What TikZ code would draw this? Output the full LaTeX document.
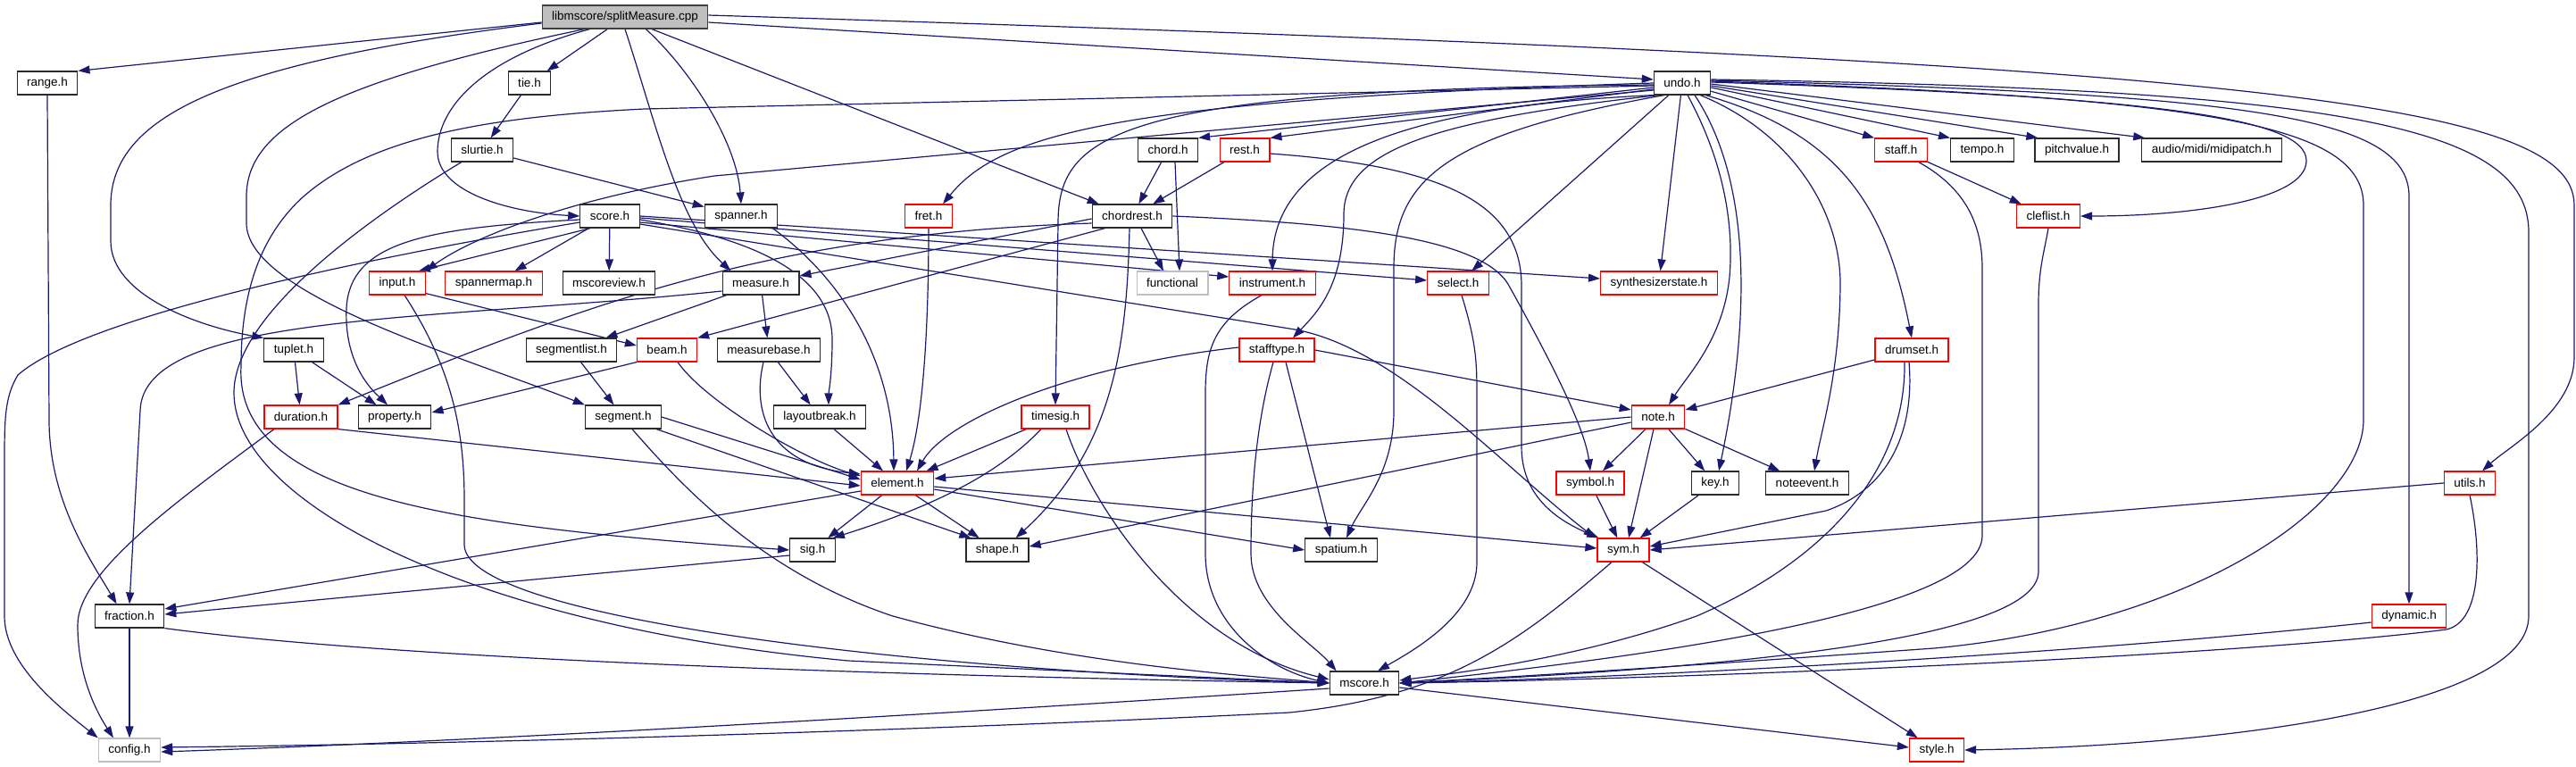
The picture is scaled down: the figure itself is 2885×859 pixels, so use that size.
\documentclass[tikz,border=0pt]{standalone}
\usepackage{fontspec}
\setmainfont{Liberation Sans}
\usepackage{tikz}
\usetikzlibrary{arrows.meta, calc, backgrounds}
\definecolor{edgeNavy}{HTML}{191970}
\definecolor{boxEdge}{HTML}{2B2B2B}
\definecolor{boxRed}{HTML}{FF0000}
\definecolor{boxGray}{HTML}{BFBFBF}
\definecolor{mainEdge}{HTML}{404040}
\tikzset{
  incFile/.style={rectangle, draw=boxEdge, fill=white, line width=1.2pt,
                  minimum height=26pt, inner xsep=11pt, inner ysep=0pt,
                  font=\fontsize{13.5}{16}\selectfont},
  incRed/.style={incFile, draw=boxRed},
  incExt/.style={incFile, draw=boxGray},
  incMain/.style={incFile, draw=mainEdge, fill=boxGray},
  arrowInc/.style={-{Triangle[length=13pt, width=9pt]}, edgeNavy, line width=1.2pt},
}

\begin{document}
\begin{tikzpicture}[x=1pt, y=-1pt]
  \useasboundingbox (0,0) rectangle (2885,859);

  \node[incMain] (cpp) at (700,19) {libmscore/splitMeasure.cpp};
  \node[incFile] (range) at (53,93) {range.h};
  \node[incFile] (tie) at (593,93) {tie.h};
  \node[incFile] (undo) at (1884,93) {undo.h};
  \node[incFile] (slurtie) at (540,168) {slurtie.h};
  \node[incFile] (chord) at (1308,168) {chord.h};
  \node[incRed] (rest) at (1394,168) {rest.h};
  \node[incRed] (staff) at (2129,168) {staff.h};
  \node[incFile] (tempo) at (2220,168) {tempo.h};
  \node[incFile] (pitch) at (2326,168) {pitchvalue.h};
  \node[incFile] (midipatch) at (2477,168) {audio/midi/midipatch.h};
  \node[incFile] (score) at (683,242) {score.h};
  \node[incFile] (spanner) at (830,242) {spanner.h};
  \node[incRed] (fret) at (1040,242) {fret.h};
  \node[incFile] (chordrest) at (1268,242) {chordrest.h};
  \node[incRed] (cleflist) at (2294,242) {cleflist.h};
  \node[incRed] (input) at (445,317) {input.h};
  \node[incRed] (spanmap) at (553,317) {spannermap.h};
  \node[incFile] (view) at (682,317) {mscoreview.h};
  \node[incFile] (measure) at (852,317) {measure.h};
  \node[incExt] (functional) at (1313,317) {functional};
  \node[incRed] (instr) at (1425,317) {instrument.h};
  \node[incRed] (select) at (1633,317) {select.h};
  \node[incRed] (synth) at (1858,317) {synthesizerstate.h};
  \node[incFile] (tuplet) at (329,392) {tuplet.h};
  \node[incFile] (seglist) at (640,392) {segmentlist.h};
  \node[incRed] (beam) at (747,392) {beam.h};
  \node[incFile] (mbase) at (861,392) {measurebase.h};
  \node[incRed] (stafftype) at (1430,392) {stafftype.h};
  \node[incRed] (drumset) at (2141,392) {drumset.h};
  \node[incRed] (duration) at (337,467) {duration.h};
  \node[incFile] (property) at (442,467) {property.h};
  \node[incFile] (segment) at (698,467) {segment.h};
  \node[incFile] (lbreak) at (918,467) {layoutbreak.h};
  \node[incRed] (timesig) at (1182,467) {timesig.h};
  \node[incRed] (note) at (1857,467) {note.h};
  \node[incRed] (element) at (1005,541) {element.h};
  \node[incRed] (symbol) at (1781,541) {symbol.h};
  \node[incFile] (key) at (1921,541) {key.h};
  \node[incFile] (nevent) at (2024,541) {noteevent.h};
  \node[incRed] (utils) at (2766,541) {utils.h};
  \node[incFile] (sig) at (910,616) {sig.h};
  \node[incFile] (shape) at (1117,616) {shape.h};
  \node[incFile] (spatium) at (1502,616) {spatium.h};
  \node[incRed] (sym) at (1818,616) {sym.h};
  \node[incFile] (fraction) at (145,690) {fraction.h};
  \node[incRed] (dynamic) at (2698,690) {dynamic.h};
  \node[incFile] (mscore) at (1528,765) {mscore.h};
  \node[incExt] (config) at (145,840) {config.h};
  \node[incRed] (style) at (2169,840) {style.h};

  \begin{scope}[on background layer]
  \draw[arrowInc] ($(cpp.west)+(0,6)$) -- (range.north east);
  \draw[arrowInc] ($(cpp.west)+(0,7)$) .. controls (250,70) and (124,130) .. (124,230) -- (124,270) .. controls (124,330) and (220,365) .. (tuplet.north west);
  \draw[arrowInc] ($(cpp.south west)+(48,0)$) .. controls (380,90) and (276,140) .. (276,220) -- (276,250) .. controls (276,330) and (520,400) .. (segment.north west);
  \draw[arrowInc] ($(cpp.south west)+(54,0)$) .. controls (540,65) and (490,120) .. (490,170) .. controls (490,215) and (570,238) .. (score.west);
  \draw[arrowInc] (cpp) -- (tie);
  \draw[arrowInc] (cpp.south) .. controls (735,140) and (760,250) .. ($(measure.north west)+(10,0)$);
  \draw[arrowInc] ($(cpp.south east)+(-70,0)$) .. controls (775,80) and (825,160) .. (spanner.north);
  \draw[arrowInc] ($(cpp.south)+(30,0)$) -- ($(chordrest.north west)+(8,0)$);
  \draw[arrowInc] ($(cpp.east)+(0,6)$) -- ($(undo.west)+(0,-4)$);
  \draw[arrowInc] ($(cpp.east)+(0,-2)$) .. controls (2500,70) and (2883,110) .. (2883,230) -- (2883,400) .. controls (2883,460) and (2810,500) .. ($(utils.north)+(14,0)$);

  \draw[arrowInc] (range.south) -- (55,470) .. controls (55,560) and (100,625) .. ($(fraction.north west)+(25,0)$);
  \draw[arrowInc] (tie) -- (slurtie);
  \draw[arrowInc] (slurtie) -- (spanner);
  \draw[arrowInc] ($(slurtie.south west)+(12,0)$) .. controls (420,240) and (262,350) .. (262,440) .. controls (262,560) and (520,700) .. (950,740) -- (mscore.west);

  \draw[arrowInc] ($(undo.west)+(0,3)$) -- (722,122) .. controls (560,130) and (420,150) .. (340,220) .. controls (290,265) and (270,330) .. (270,410) .. controls (262,560) and (520,590) .. (sig.west);
  \draw[arrowInc] ($(undo.west)+(0,5)$) -- (chord.north east);
  \draw[arrowInc] ($(undo.west)+(0,7)$) -- (rest.north east);
  \draw[arrowInc] (undo.west) .. controls (1250,112) and (1120,150) .. ($(fret.north)+(16,0)$);
  \draw[arrowInc] ($(undo.west)+(0,2)$) .. controls (1250,100) and (1185,150) .. (1185,250) -- (timesig.north);
  \draw[arrowInc] ($(undo.west)+(0,8)$) -- (800,197) .. controls (640,222) and (530,265) .. (input.north east);
  \draw[arrowInc] (undo.south west) .. controls (1560,120) and (1426,180) .. (instr.north);
  \draw[arrowInc] ($(undo.south west)+(6,0)$) .. controls (1600,135) and (1505,170) .. (1505,240) .. controls (1505,320) and (1475,350) .. ($(stafftype.north)+(18,0)$);
  \draw[arrowInc] ($(undo.south west)+(12,0)$) .. controls (1620,150) and (1561,200) .. (1561,300) -- (1561,460) .. controls (1561,530) and (1525,565) .. ($(spatium.north)+(6,0)$);
  \draw[arrowInc] (undo) -- (select);
  \draw[arrowInc] (undo) -- (synth);
  \draw[arrowInc] ($(undo.south)+(6,0)$) .. controls (1930,180) and (1942,250) .. (1937,310) .. controls (1930,380) and (1890,420) .. ($(note.north)+(12,0)$);
  \draw[arrowInc] ($(undo.south)+(14,0)$) .. controls (1960,200) and (1962,350) .. ($(key.north)+(4,0)$);
  \draw[arrowInc] ($(undo.south east)+(-12,0)$) .. controls (2010,150) and (2062,240) .. (2061,320) .. controls (2060,420) and (2040,480) .. ($(nevent.north)+(8,0)$);
  \draw[arrowInc] ($(undo.south east)+(-6,0)$) .. controls (2060,150) and (2112,230) .. (drumset.north);
  \draw[arrowInc] (undo) -- (staff.north west);
  \draw[arrowInc] ($(undo.east)+(0,5)$) -- (tempo.north west);
  \draw[arrowInc] ($(undo.east)+(0,3)$) -- ($(pitch.north west)+(4,0)$);
  \draw[arrowInc] ($(undo.east)+(0,1)$) -- ($(midipatch.north west)+(4,0)$);
  \draw[arrowInc] ($(undo.east)+(0,-1)$) .. controls (2400,108) and (2583,130) .. (2583,180) .. controls (2583,225) and (2450,242) .. (cleflist.east);
  \draw[arrowInc] ($(undo.east)+(0,-2)$) .. controls (2480,110) and (2647,140) .. (2647,230) -- (2647,470) .. controls (2647,570) and (2450,700) .. (2166,726) .. controls (1900,745) and (1700,758) .. (mscore.east);
  \draw[arrowInc] ($(undo.east)+(0,-3)$) .. controls (2520,105) and (2698,130) .. (2698,220) -- (dynamic.north);
  \draw[arrowInc] ($(undo.east)+(0,-4)$) .. controls (2620,100) and (2832,140) .. (2832,260) -- (2832,690) .. controls (2832,790) and (2500,835) .. (style.east);

  \draw[arrowInc] (staff) -- (cleflist);
  \draw[arrowInc] ($(staff.south east)+(-10,0)$) .. controls (2200,210) and (2220,250) .. (2220,300) -- (2220,600) .. controls (2220,690) and (1800,740) .. (mscore.east);
  \draw[arrowInc] (cleflist.south) .. controls (2290,280) and (2283,300) .. (2283,340) -- (2283,640) .. controls (2283,720) and (1900,750) .. (mscore.east);
  \draw[arrowInc] ($(dynamic.west)+(0,7)$) .. controls (2300,735) and (1800,760) .. (mscore.east);
  \draw[arrowInc] (utils.south) .. controls (2778,610) and (2782,695) .. (2740,705) .. controls (2500,735) and (1900,760) .. (mscore.east);
  \draw[arrowInc] (utils.west) -- (sym.east);

  \draw[arrowInc] (drumset) -- (note);
  \draw[arrowInc] ($(drumset.south)+(-3,0)$) .. controls (2145,490) and (2110,550) .. (2045,572) -- ($(sym.east)+(0,-4)$);
  \draw[arrowInc] ($(drumset.south)+(-8,0)$) .. controls (2135,530) and (2040,630) .. (1900,690) .. controls (1760,740) and (1620,755) .. ($(mscore.east)+(0,-3)$);

  \draw[arrowInc] (note.west) -- ($(element.east)+(0,-5)$);
  \draw[arrowInc] ($(note.west)+(0,6)$) -- ($(shape.east)+(0,-4)$);
  \draw[arrowInc] (note) -- (symbol);
  \draw[arrowInc] ($(note.south)+(-5,0)$) -- ($(sym.north)+(6,0)$);
  \draw[arrowInc] (note) -- (key);
  \draw[arrowInc] (note) -- (nevent);
  \draw[arrowInc] (symbol) -- (sym);
  \draw[arrowInc] (key) -- (sym);

  \draw[arrowInc] ($(sym.south)+(-13,0)$) .. controls (1700,720) and (1620,780) .. (1444,798) .. controls (1100,815) and (600,832) .. ($(config.east)+(0,-3)$);
  \draw[arrowInc] (sym) -- (style);
  \draw[arrowInc] ($(mscore.east)+(0,5)$) -- ($(style.west)+(0,-3)$);
  \draw[arrowInc] ($(mscore.west)+(0,6)$) .. controls (1200,790) and (600,828) .. ($(config.east)+(0,2)$);

  \draw[arrowInc] (fraction) -- (config);
  \draw[arrowInc] (fraction.south east) .. controls (420,735) and (900,755) .. (mscore.west);
  \draw[arrowInc] ($(sig.west)+(0,6)$) -- ($(fraction.east)+(0,-2)$);

  \draw[arrowInc] ($(element.west)+(0,9)$) -- ($(fraction.east)+(0,-8)$);
  \draw[arrowInc] (element) -- (sig);
  \draw[arrowInc] (element) -- (shape);
  \draw[arrowInc] ($(element.east)+(0,7)$) -- (spatium.west);
  \draw[arrowInc] ($(element.east)+(0,4)$) -- ($(sym.west)+(0,-2)$);

  \draw[arrowInc] (timesig) -- (element);
  \draw[arrowInc] ($(timesig.south)+(-16,0)$) .. controls (1110,540) and (1020,575) .. ($(sig.north east)+(-3,0)$);
  \draw[arrowInc] ($(timesig.south)+(12,0)$) .. controls (1220,560) and (1320,720) .. ($(mscore.west)+(0,-4)$);

  \draw[arrowInc] ($(stafftype.west)+(0,-3)$) .. controls (1200,410) and (1060,470) .. ($(element.north)+(22,0)$);
  \draw[arrowInc] (stafftype.east) -- ($(note.west)+(0,-8)$);
  \draw[arrowInc] ($(stafftype.south)+(10,0)$) -- ($(spatium.north)+(-12,0)$);
  \draw[arrowInc] ($(stafftype.south)+(-4,0)$) .. controls (1405,480) and (1401,560) .. (1401,620) .. controls (1401,680) and (1470,720) .. ($(mscore.north west)+(8,0)$);

  \draw[arrowInc] ($(instr.south)+(-12,0)$) .. controls (1360,360) and (1350,390) .. (1350,440) -- (1350,620) .. controls (1350,700) and (1420,750) .. (mscore.west);
  \draw[arrowInc] ($(select.south)+(4,0)$) .. controls (1652,380) and (1654,400) .. (1654,440) -- (1654,630) .. controls (1654,690) and (1580,730) .. ($(mscore.north)+(15,0)$);

  \draw[arrowInc] ($(segment.south)+(10,0)$) .. controls (760,540) and (850,640) .. (1000,690) .. controls (1200,745) and (1400,757) .. (mscore.west);
  \draw[arrowInc] ($(input.south)+(8,0)$) .. controls (505,410) and (520,480) .. (520,560) -- (520,610) .. controls (520,690) and (1000,750) .. (mscore.west);
  \draw[arrowInc] ($(input.south east)+(0,-2)$) -- ($(beam.west)+(0,-5)$);

  \draw[arrowInc] (beam.south west) -- ($(property.east)+(0,-5)$);
  \draw[arrowInc] ($(beam.south)+(12,0)$) .. controls (790,450) and (900,515) .. ($(element.west)+(0,-8)$);

  \draw[arrowInc] ($(chordrest.south west)+(15,0)$) -- (beam.north east);
  \draw[arrowInc] ($(chordrest.west)+(0,3)$) -- ($(measure.east)+(0,-8)$);
  \draw[arrowInc] ($(chordrest.west)+(0,8)$) .. controls (860,262) and (660,340) .. (duration.north east);
  \draw[arrowInc] ($(chordrest.south)+(10,0)$) -- ($(functional.north)+(-10,0)$);
  \draw[arrowInc] ($(chordrest.south)+(-3,0)$) .. controls (1262,380) and (1250,500) .. ($(shape.north east)+(-15,0)$);
  \draw[arrowInc] (chordrest.east) .. controls (1500,250) and (1660,265) .. (1690,320) .. controls (1740,410) and (1775,480) .. (symbol.north);

  \draw[arrowInc] (chord) -- (chordrest);
  \draw[arrowInc] ($(chord.south)+(8,0)$) -- ($(functional.north)+(8,0)$);
  \draw[arrowInc] (rest) -- (chordrest);
  \draw[arrowInc] ($(rest.east)+(0,4)$) .. controls (1600,185) and (1704,220) .. (1704,320) -- (1704,500) .. controls (1704,560) and (1750,585) .. ($(sym.north west)+(2,0)$);

  \draw[arrowInc] ($(score.south west)+(12,0)$) -- ($(input.north east)+(-8,0)$);
  \draw[arrowInc] (score) -- (spanmap);
  \draw[arrowInc] (score) -- (view);
  \draw[arrowInc] ($(score.west)+(0,4)$) .. controls (480,255) and (392,270) .. (388,345) .. controls (385,410) and (420,440) .. ($(property.north)+(-8,0)$);
  \draw[arrowInc] ($(score.west)+(0,7)$) .. controls (450,282) and (100,350) .. (20,420) .. controls (5,445) and (5,470) .. (5,520) -- (5,690) .. controls (5,745) and (70,795) .. (config.north west);
  \draw[arrowInc] ($(score.east)+(0,4)$) .. controls (850,268) and (932,310) .. (932,380) .. controls (932,420) and (928,440) .. ($(lbreak.north)+(10,0)$);
  \draw[arrowInc] ($(score.east)+(0,7)$) -- ($(instr.west)+(0,-7)$);
  \draw[arrowInc] ($(score.east)+(0,2)$) -- ($(select.west)+(0,-3)$);
  \draw[arrowInc] (score.east) -- ($(synth.west)+(0,-5)$);
  \draw[arrowInc] ($(score.east)+(0,9)$) -- (1444,368) .. controls (1560,385) and (1680,520) .. ($(sym.north west)+(-2,0)$);

  \draw[arrowInc] (measure) -- (mbase);
  \draw[arrowInc] (measure) -- (seglist);
  \draw[arrowInc] ($(measure.west)+(0,9)$) .. controls (480,360) and (160,350) .. (157,460) -- (fraction.north);
  \draw[arrowInc] (mbase) -- (lbreak);
  \draw[arrowInc] ($(mbase.south)+(-6,0)$) .. controls (842,460) and (860,520) .. ($(element.west)+(0,-10)$);
  \draw[arrowInc] (seglist) -- (segment);
  \draw[arrowInc] (segment.east) -- ($(element.west)+(0,-4)$);
  \draw[arrowInc] ($(segment.south east)+(-6,0)$) -- ($(shape.north west)+(6,0)$);
  \draw[arrowInc] (lbreak) -- (element);
  \draw[arrowInc] (duration.south east) -- ($(element.west)+(0,3)$);
  \draw[arrowInc] ($(duration.south)+(-30,0)$) .. controls (200,560) and (87,640) .. (87,700) .. controls (87,760) and (110,800) .. ($(config.north)+(-18,0)$);
  \draw[arrowInc] (tuplet) -- (duration);
  \draw[arrowInc] (tuplet) -- (property);
  \draw[arrowInc] ($(spanner.south east)+(-6,0)$) .. controls (940,310) and (1000,400) .. ($(element.north)+(-4,0)$);
  \draw[arrowInc] (fret.south) .. controls (1040,400) and (1030,480) .. ($(element.north)+(10,0)$);
  \end{scope}
\end{tikzpicture}
\end{document}
